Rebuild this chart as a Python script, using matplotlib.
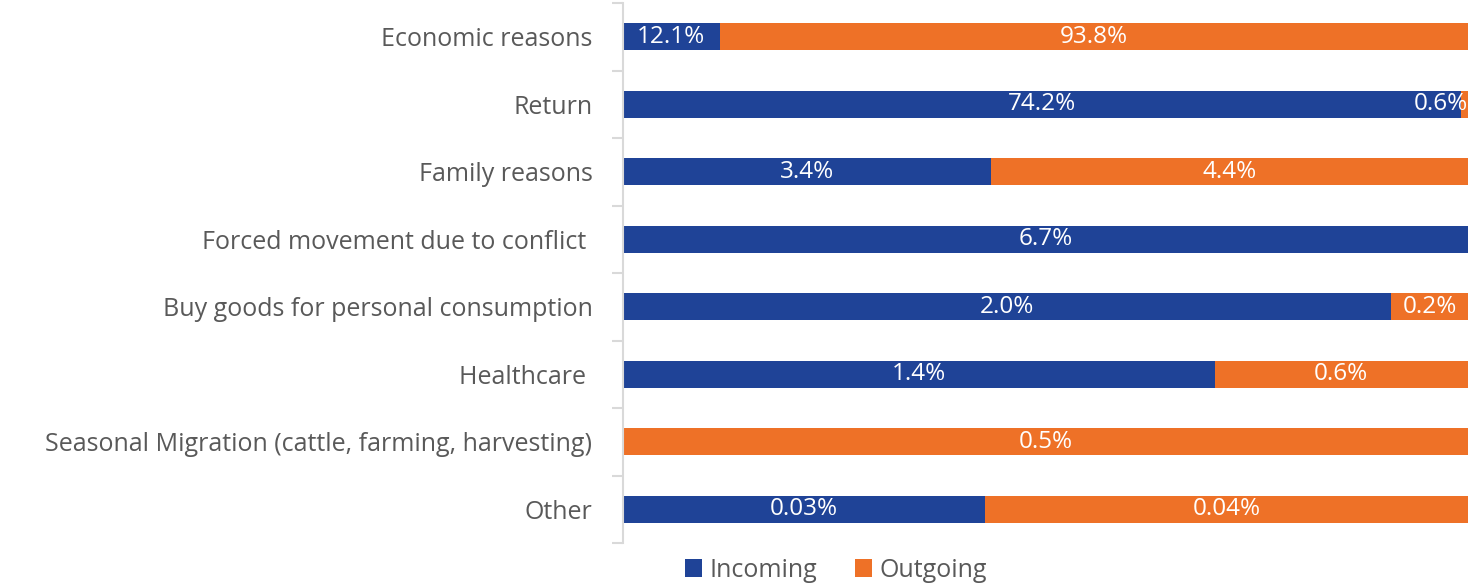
import matplotlib
matplotlib.use('Agg')
import matplotlib.pyplot as plt
import numpy as np

categories = ['Economic reasons', 'Return', 'Family reasons',
              'Forced movement due to conflict ', 'Buy goods for personal consumption',
              'Healthcare ', 'Seasonal Migration (cattle, farming, harvesting)', 'Other']
incoming = [12.1, 74.2, 3.4, 6.7, 2.0, 1.4, 0.0, 0.03]
outgoing = [93.8, 0.6, 4.4, 0.0, 0.2, 0.6, 0.5, 0.04]
incomingLabels = ['12.1%', '74.2%', '3.4%', '6.7%', '2.0%', '1.4%', '', '0.03%']
outgoingLabels = ['93.8%', '0.6%', '4.4%', '', '0.2%', '0.6%', '0.5%', '0.04%']

plt.rcParams['font.family'] = ['Open Sans', 'DejaVu Sans']

blue = '#1F4397'
orange = '#EE7127'
gray = '#595959'
fs = 18        # category and legend text
fsLabel = 17.5 # values inside the bars

fig = plt.figure(figsize=(14.77, 5.83), dpi=100)
ax = fig.add_axes([623 / 1477, 1 - 543 / 583, (1468 - 623) / 1477, 540 / 583])

inc = np.array(incoming)
out = np.array(outgoing)
total = inc + out
incShare = inc / total
outShare = out / total
y = np.arange(len(categories))

ax.barh(y, incShare, height=0.4, color=blue, label='Incoming')
ax.barh(y, outShare, left=incShare, height=0.4, color=orange, label='Outgoing')

for i in range(len(categories)):
    if incomingLabels[i]:
        ax.text(incShare[i] / 2, y[i], incomingLabels[i], ha='center', va='center',
                color='white', fontsize=fsLabel)
    if outgoingLabels[i]:
        center = incShare[i] + outShare[i] / 2
        if outShare[i] < 0.03:
            # too narrow: keep the label inside the plot area
            ax.text(1.0, y[i], outgoingLabels[i], ha='right', va='center',
                    color='white', fontsize=fsLabel)
        else:
            ax.text(center, y[i], outgoingLabels[i], ha='center', va='center',
                    color='white', fontsize=fsLabel)

ax.set_xlim(0, 1)
ax.set_ylim(len(categories) - 0.5, -0.5)
ax.set_yticks(y)
ax.set_yticklabels(categories, fontsize=fs, color=gray)
ax.set_yticks(np.arange(-0.5, len(categories)), minor=True)
ax.tick_params(axis='y', which='major', length=0, pad=22)
ax.tick_params(axis='y', which='minor', length=8, color='#D9D9D9', width=1.5)
ax.set_xticks([])
for side in ['top', 'right', 'bottom']:
    ax.spines[side].set_visible(False)
ax.spines['left'].set_color('#D9D9D9')
ax.spines['left'].set_linewidth(1.5)

fig.legend(loc='center', bbox_to_anchor=(836 / 1477, 0.022), ncol=2, frameon=False,
           fontsize=fs, labelcolor=gray, handlelength=0.7, handleheight=0.7,
           handletextpad=0.3, columnspacing=1.5)

fig.savefig('out.png', dpi=100)
